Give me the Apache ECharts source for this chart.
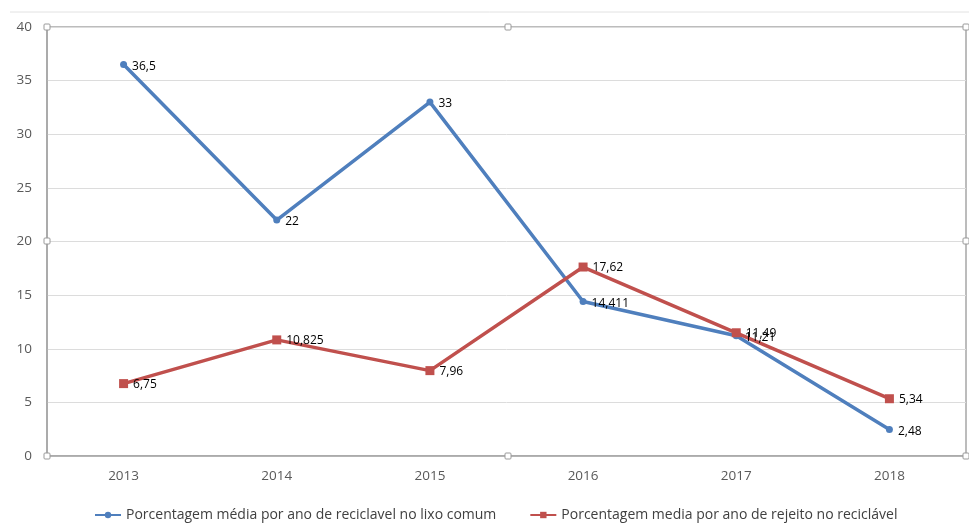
<!DOCTYPE html>
<html><head><meta charset="utf-8">
<script src="https://cdn.jsdelivr.net/npm/echarts@6/dist/echarts.min.js"></script>
<style>html,body{margin:0;padding:0;background:#fff}#c{width:969px;height:527px}</style>
</head><body><div id="c"></div>
<script>
const categories = ['2013','2014','2015','2016','2017','2018'];
const reciclavelLixoComum = [36.5, 22, 33, 14.411, 11.21, 2.48];
const rejeitoReciclavel = [6.75, 10.825, 7.96, 17.62, 11.49, 5.34];
const seriesNames = ['Porcentagem média por ano de reciclavel no lixo comum', 'Porcentagem media por ano de rejeito no reciclável'];
const yTicks = {min: 0, max: 40, interval: 5};

const chart = echarts.init(document.getElementById('c'), null, {renderer: 'canvas'});
const fmt = p => String(p.value).replace('.', ',');
const L = 47, R = 966, T = 27, B = 456, MX = 508, MY = 241;
function handle(x, y) {
  return {type: 'rect', shape: {x: x - 3, y: y - 3, width: 6, height: 6, r: 1},
    style: {fill: '#fff', stroke: '#9a9a9a', lineWidth: 1}, z: 100};
}
chart.setOption({
  animation: false,
  textStyle: {fontFamily: 'Open Sans'},
  grid: {left: L, right: 969 - R, top: T, bottom: 527 - B, show: true, borderColor: '#a6a6a6', borderWidth: 1.5},
  xAxis: {type: 'category', data: categories, boundaryGap: true,
    axisLine: {lineStyle: {color: '#a6a6a6', width: 1.5}}, axisTick: {show: false},
    axisLabel: {color: '#595959', fontSize: 13.5, margin: 13}},
  yAxis: {type: 'value', min: yTicks.min, max: yTicks.max, interval: yTicks.interval,
    axisLine: {show: true, lineStyle: {color: '#a6a6a6', width: 1.5}}, axisTick: {show: false},
    splitLine: {lineStyle: {color: '#dcdcdc'}},
    axisLabel: {color: '#595959', fontSize: 13.5, margin: 15}},
  legend: {left: 94, bottom: 5, itemGap: 33, itemWidth: 26, itemHeight: 8,
    textStyle: {color: '#404040', fontSize: 14, fontFamily: 'Open Sans'}, padding: 0},
  series: [
    {name: seriesNames[0], type: 'line', data: reciclavelLixoComum, color: '#4f7fbd',
      lineStyle: {width: 3.5}, symbol: 'circle', symbolSize: 7,
      label: {show: true, position: 'right', offset: [0, 2], color: '#000', fontSize: 12, formatter: fmt}},
    {name: seriesNames[1], type: 'line', data: rejeitoReciclavel, color: '#c0504d',
      lineStyle: {width: 3.5}, symbol: 'rect', symbolSize: 9,
      label: {show: true, position: 'right', offset: [0, 1], color: '#000', fontSize: 12, formatter: fmt}}
  ],
  graphic: [
    {type: 'line', shape: {x1: 10, y1: 12, x2: 969, y2: 12}, style: {stroke: '#e2e2e2', lineWidth: 1}},
    handle(L, T), handle(MX, T), handle(R, T), handle(L, MY), handle(R, MY),
    handle(L, B), handle(MX, B), handle(R, B)
  ]
});
</script></body></html>
